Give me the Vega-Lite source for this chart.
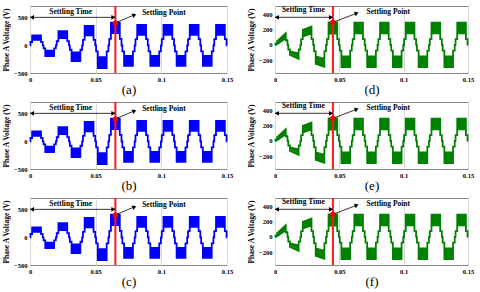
{
"$schema":"https://vega.github.io/schema/vega-lite/v6.json",
"padding":{"left":2,"top":4,"right":0,"bottom":0},
"background":"white",
"data":{"values":[{}]},
"datasets":{"w":[
{"t":0,"blo":0,"bhi":0,"glo":0,"ghi":0},
{"t":0.0003,"blo":0,"bhi":0,"glo":0,"ghi":0},
{"t":0.00035,"blo":60,"bhi":60,"glo":15,"ghi":15},
{"t":0.0016,"blo":60,"bhi":60,"glo":15,"ghi":15},
{"t":0.00165,"blo":100,"bhi":180,"glo":10,"ghi":50},
{"t":0.00835,"blo":100,"bhi":180,"glo":85,"ghi":150},
{"t":0.0084,"blo":60,"bhi":60,"glo":60,"ghi":60},
{"t":0.00965,"blo":60,"bhi":60,"glo":60,"ghi":60},
{"t":0.0097,"blo":0,"bhi":0,"glo":0,"ghi":0},
{"t":0.0103,"blo":0,"bhi":0,"glo":0,"ghi":0},
{"t":0.01035,"blo":-55,"bhi":-55,"glo":-60,"ghi":-60},
{"t":0.0116,"blo":-55,"bhi":-55,"glo":-60,"ghi":-60},
{"t":0.01165,"blo":-195,"bhi":-95,"glo":-130,"ghi":-85},
{"t":0.01835,"blo":-195,"bhi":-95,"glo":-180,"ghi":-110},
{"t":0.0184,"blo":-55,"bhi":-55,"glo":-60,"ghi":-60},
{"t":0.01965,"blo":-55,"bhi":-55,"glo":-60,"ghi":-60},
{"t":0.0197,"blo":0,"bhi":0,"glo":0,"ghi":0},
{"t":0.0203,"blo":0,"bhi":0,"glo":0,"ghi":0},
{"t":0.02035,"blo":75,"bhi":75,"glo":75,"ghi":75},
{"t":0.0216,"blo":75,"bhi":75,"glo":75,"ghi":75},
{"t":0.02165,"blo":130,"bhi":255,"glo":110,"ghi":195},
{"t":0.02835,"blo":130,"bhi":255,"glo":150,"ghi":238},
{"t":0.0284,"blo":75,"bhi":75,"glo":75,"ghi":75},
{"t":0.02965,"blo":75,"bhi":75,"glo":75,"ghi":75},
{"t":0.0297,"blo":0,"bhi":0,"glo":0,"ghi":0},
{"t":0.0303,"blo":0,"bhi":0,"glo":0,"ghi":0},
{"t":0.03035,"blo":-80,"bhi":-80,"glo":-80,"ghi":-80},
{"t":0.0316,"blo":-80,"bhi":-80,"glo":-80,"ghi":-80},
{"t":0.03165,"blo":-285,"bhi":-130,"glo":-245,"ghi":-150},
{"t":0.03835,"blo":-285,"bhi":-130,"glo":-285,"ghi":-180},
{"t":0.0384,"blo":-80,"bhi":-80,"glo":-80,"ghi":-80},
{"t":0.03965,"blo":-80,"bhi":-80,"glo":-80,"ghi":-80},
{"t":0.0397,"blo":0,"bhi":0,"glo":0,"ghi":0},
{"t":0.0403,"blo":0,"bhi":0,"glo":0,"ghi":0},
{"t":0.04035,"blo":100,"bhi":100,"glo":75,"ghi":75},
{"t":0.0416,"blo":100,"bhi":100,"glo":75,"ghi":75},
{"t":0.04165,"blo":180,"bhi":350,"glo":145,"ghi":292},
{"t":0.04835,"blo":180,"bhi":350,"glo":145,"ghi":292},
{"t":0.0484,"blo":100,"bhi":100,"glo":75,"ghi":75},
{"t":0.04965,"blo":100,"bhi":100,"glo":75,"ghi":75},
{"t":0.0497,"blo":0,"bhi":0,"glo":0,"ghi":0},
{"t":0.0503,"blo":0,"bhi":0,"glo":0,"ghi":0},
{"t":0.05035,"blo":-110,"bhi":-110,"glo":-75,"ghi":-75},
{"t":0.0516,"blo":-110,"bhi":-110,"glo":-75,"ghi":-75},
{"t":0.05165,"blo":-410,"bhi":-215,"glo":-290,"ghi":-150},
{"t":0.05835,"blo":-410,"bhi":-215,"glo":-290,"ghi":-150},
{"t":0.0584,"blo":-110,"bhi":-110,"glo":-75,"ghi":-75},
{"t":0.05965,"blo":-110,"bhi":-110,"glo":-75,"ghi":-75},
{"t":0.0597,"blo":0,"bhi":0,"glo":0,"ghi":0},
{"t":0.0603,"blo":0,"bhi":0,"glo":0,"ghi":0},
{"t":0.06035,"blo":115,"bhi":115,"glo":75,"ghi":75},
{"t":0.0616,"blo":115,"bhi":115,"glo":75,"ghi":75},
{"t":0.06165,"blo":220,"bhi":410,"glo":150,"ghi":290},
{"t":0.06835,"blo":220,"bhi":410,"glo":150,"ghi":290},
{"t":0.0684,"blo":115,"bhi":115,"glo":75,"ghi":75},
{"t":0.06965,"blo":115,"bhi":115,"glo":75,"ghi":75},
{"t":0.0697,"blo":0,"bhi":0,"glo":0,"ghi":0},
{"t":0.0703,"blo":0,"bhi":0,"glo":0,"ghi":0},
{"t":0.07035,"blo":-110,"bhi":-110,"glo":-75,"ghi":-75},
{"t":0.0716,"blo":-110,"bhi":-110,"glo":-75,"ghi":-75},
{"t":0.07165,"blo":-370,"bhi":-190,"glo":-290,"ghi":-150},
{"t":0.07835,"blo":-370,"bhi":-190,"glo":-290,"ghi":-150},
{"t":0.0784,"blo":-110,"bhi":-110,"glo":-75,"ghi":-75},
{"t":0.07965,"blo":-110,"bhi":-110,"glo":-75,"ghi":-75},
{"t":0.0797,"blo":0,"bhi":0,"glo":0,"ghi":0},
{"t":0.0803,"blo":0,"bhi":0,"glo":0,"ghi":0},
{"t":0.08035,"blo":110,"bhi":110,"glo":75,"ghi":75},
{"t":0.0816,"blo":110,"bhi":110,"glo":75,"ghi":75},
{"t":0.08165,"blo":190,"bhi":370,"glo":150,"ghi":290},
{"t":0.08835,"blo":190,"bhi":370,"glo":150,"ghi":290},
{"t":0.0884,"blo":110,"bhi":110,"glo":75,"ghi":75},
{"t":0.08965,"blo":110,"bhi":110,"glo":75,"ghi":75},
{"t":0.0897,"blo":0,"bhi":0,"glo":0,"ghi":0},
{"t":0.0903,"blo":0,"bhi":0,"glo":0,"ghi":0},
{"t":0.09035,"blo":-110,"bhi":-110,"glo":-75,"ghi":-75},
{"t":0.0916,"blo":-110,"bhi":-110,"glo":-75,"ghi":-75},
{"t":0.09165,"blo":-370,"bhi":-190,"glo":-290,"ghi":-150},
{"t":0.09835,"blo":-370,"bhi":-190,"glo":-290,"ghi":-150},
{"t":0.0984,"blo":-110,"bhi":-110,"glo":-75,"ghi":-75},
{"t":0.09965,"blo":-110,"bhi":-110,"glo":-75,"ghi":-75},
{"t":0.0997,"blo":0,"bhi":0,"glo":0,"ghi":0},
{"t":0.1003,"blo":0,"bhi":0,"glo":0,"ghi":0},
{"t":0.10035,"blo":110,"bhi":110,"glo":75,"ghi":75},
{"t":0.1016,"blo":110,"bhi":110,"glo":75,"ghi":75},
{"t":0.10165,"blo":190,"bhi":370,"glo":150,"ghi":290},
{"t":0.10835,"blo":190,"bhi":370,"glo":150,"ghi":290},
{"t":0.1084,"blo":110,"bhi":110,"glo":75,"ghi":75},
{"t":0.10965,"blo":110,"bhi":110,"glo":75,"ghi":75},
{"t":0.1097,"blo":0,"bhi":0,"glo":0,"ghi":0},
{"t":0.1103,"blo":0,"bhi":0,"glo":0,"ghi":0},
{"t":0.11035,"blo":-110,"bhi":-110,"glo":-75,"ghi":-75},
{"t":0.1116,"blo":-110,"bhi":-110,"glo":-75,"ghi":-75},
{"t":0.11165,"blo":-370,"bhi":-190,"glo":-290,"ghi":-150},
{"t":0.11835,"blo":-370,"bhi":-190,"glo":-290,"ghi":-150},
{"t":0.1184,"blo":-110,"bhi":-110,"glo":-75,"ghi":-75},
{"t":0.11965,"blo":-110,"bhi":-110,"glo":-75,"ghi":-75},
{"t":0.1197,"blo":0,"bhi":0,"glo":0,"ghi":0},
{"t":0.1203,"blo":0,"bhi":0,"glo":0,"ghi":0},
{"t":0.12035,"blo":110,"bhi":110,"glo":75,"ghi":75},
{"t":0.1216,"blo":110,"bhi":110,"glo":75,"ghi":75},
{"t":0.12165,"blo":190,"bhi":370,"glo":150,"ghi":290},
{"t":0.12835,"blo":190,"bhi":370,"glo":150,"ghi":290},
{"t":0.1284,"blo":110,"bhi":110,"glo":75,"ghi":75},
{"t":0.12965,"blo":110,"bhi":110,"glo":75,"ghi":75},
{"t":0.1297,"blo":0,"bhi":0,"glo":0,"ghi":0},
{"t":0.1303,"blo":0,"bhi":0,"glo":0,"ghi":0},
{"t":0.13035,"blo":-110,"bhi":-110,"glo":-75,"ghi":-75},
{"t":0.1316,"blo":-110,"bhi":-110,"glo":-75,"ghi":-75},
{"t":0.13165,"blo":-370,"bhi":-190,"glo":-290,"ghi":-150},
{"t":0.13835,"blo":-370,"bhi":-190,"glo":-290,"ghi":-150},
{"t":0.1384,"blo":-110,"bhi":-110,"glo":-75,"ghi":-75},
{"t":0.13965,"blo":-110,"bhi":-110,"glo":-75,"ghi":-75},
{"t":0.1397,"blo":0,"bhi":0,"glo":0,"ghi":0},
{"t":0.1403,"blo":0,"bhi":0,"glo":0,"ghi":0},
{"t":0.14035,"blo":110,"bhi":110,"glo":75,"ghi":75},
{"t":0.1416,"blo":110,"bhi":110,"glo":75,"ghi":75},
{"t":0.14165,"blo":190,"bhi":370,"glo":150,"ghi":290},
{"t":0.14835,"blo":190,"bhi":370,"glo":150,"ghi":290},
{"t":0.1484,"blo":110,"bhi":110,"glo":75,"ghi":75},
{"t":0.14965,"blo":110,"bhi":110,"glo":75,"ghi":75},
{"t":0.1497,"blo":0,"bhi":0,"glo":0,"ghi":0},
{"t":0.15,"blo":0,"bhi":0,"glo":0,"ghi":0}
]},
"columns":2,
"spacing":{"row":3,"column":13},
"concat":[
{"width":197,"height":67,"resolve":{"axis":{"y":"independent"}},"layer":[
 {"data":{"name":"w"},"mark":{"type":"area","color":"#0000ff","stroke":"#0000ff","strokeWidth":1.8},
  "encoding":{"x":{"field":"t","type":"quantitative","scale":{"domain":[0,0.15],"nice":false},"axis":{"values":[0,0.05,0.1,0.15],"format":"~g","title":"(a)"}},
   "y":{"field":"blo","type":"quantitative","scale":{"domain":[-500,710],"nice":false},"axis":{"values":[-500,0,500],"title":"Phase A Voltage (V)"}},"y2":{"field":"bhi"}}},
 {"mark":{"type":"rule","color":"#ff1a1a","strokeWidth":2},"encoding":{"x":{"datum":0.065}}},
 {"mark":{"type":"point","filled":true,"color":"#ff0000","size":30,"opacity":1},"encoding":{"x":{"datum":0.065},"y":{"datum":400,"axis":null}}},
 {"mark":{"type":"rule","color":"#000","strokeWidth":0.8},"encoding":{"x":{"datum":0},"x2":{"datum":0.065},"y":{"datum":505,"axis":null}}},
 {"mark":{"type":"point","shape":"triangle-left","filled":true,"color":"#000","size":22,"opacity":1},"encoding":{"x":{"datum":0.0015},"y":{"datum":505,"axis":null}}},
 {"mark":{"type":"point","shape":"triangle-right","filled":true,"color":"#000","size":22,"opacity":1},"encoding":{"x":{"datum":0.0635},"y":{"datum":505,"axis":null}}},
 {"mark":{"type":"rule","color":"#000","strokeWidth":0.8},"encoding":{"x":{"datum":0.066},"y":{"datum":415,"axis":null},"x2":{"datum":0.079},"y2":{"datum":545}}},
 {"mark":{"type":"point","shape":"triangle-right","filled":true,"color":"#000","size":22,"opacity":1,"angle":338},"encoding":{"x":{"datum":0.0795},"y":{"datum":548,"axis":null}}},
 {"mark":{"type":"text","font":"Liberation Serif","fontWeight":"bold","fontSize":7.5,"color":"#000"},"encoding":{"x":{"datum":0.031},"y":{"datum":610,"axis":null},"text":{"value":"Settling Time"}}},
 {"mark":{"type":"text","font":"Liberation Serif","fontWeight":"bold","fontSize":7.5,"color":"#000"},"encoding":{"x":{"datum":0.102},"y":{"datum":580,"axis":null},"text":{"value":"Settling Point"}}}
]},
{"width":193,"height":67,"resolve":{"axis":{"y":"independent"}},"layer":[
 {"data":{"name":"w"},"mark":{"type":"area","color":"#008000","stroke":"#008000","strokeWidth":1.8},
  "encoding":{"x":{"field":"t","type":"quantitative","scale":{"domain":[0,0.15],"nice":false},"axis":{"values":[0,0.05,0.1,0.15],"format":"~g","title":"(d)"}},
   "y":{"field":"glo","type":"quantitative","scale":{"domain":[-365,505],"nice":false},"axis":{"values":[-200,0,200,400],"title":"Phase A Voltage (V)"}},"y2":{"field":"ghi"}}},
 {"mark":{"type":"rule","color":"#ff1a1a","strokeWidth":2},"encoding":{"x":{"datum":0.045}}},
 {"mark":{"type":"point","filled":true,"color":"#ff0000","size":30,"opacity":1},"encoding":{"x":{"datum":0.045},"y":{"datum":290,"axis":null}}},
 {"mark":{"type":"rule","color":"#000","strokeWidth":0.8},"encoding":{"x":{"datum":0},"x2":{"datum":0.045},"y":{"datum":358,"axis":null}}},
 {"mark":{"type":"point","shape":"triangle-left","filled":true,"color":"#000","size":22,"opacity":1},"encoding":{"x":{"datum":0.0015},"y":{"datum":358,"axis":null}}},
 {"mark":{"type":"point","shape":"triangle-right","filled":true,"color":"#000","size":22,"opacity":1},"encoding":{"x":{"datum":0.0435},"y":{"datum":358,"axis":null}}},
 {"mark":{"type":"rule","color":"#000","strokeWidth":0.8},"encoding":{"x":{"datum":0.046},"y":{"datum":300,"axis":null},"x2":{"datum":0.063},"y2":{"datum":407}}},
 {"mark":{"type":"point","shape":"triangle-right","filled":true,"color":"#000","size":22,"opacity":1,"angle":340},"encoding":{"x":{"datum":0.0635},"y":{"datum":410,"axis":null}}},
 {"mark":{"type":"text","font":"Liberation Serif","fontWeight":"bold","fontSize":7.5,"color":"#000"},"encoding":{"x":{"datum":0.022},"y":{"datum":453,"axis":null},"text":{"value":"Settling Time"}}},
 {"mark":{"type":"text","font":"Liberation Serif","fontWeight":"bold","fontSize":7.5,"color":"#000"},"encoding":{"x":{"datum":0.088},"y":{"datum":432,"axis":null},"text":{"value":"Settling Point"}}}
]},
{"width":197,"height":67,"resolve":{"axis":{"y":"independent"}},"layer":[
 {"data":{"name":"w"},"mark":{"type":"area","color":"#0000ff","stroke":"#0000ff","strokeWidth":1.8},
  "encoding":{"x":{"field":"t","type":"quantitative","scale":{"domain":[0,0.15],"nice":false},"axis":{"values":[0,0.05,0.1,0.15],"format":"~g","title":"(b)"}},
   "y":{"field":"blo","type":"quantitative","scale":{"domain":[-500,710],"nice":false},"axis":{"values":[-500,0,500],"title":"Phase A Voltage (V)"}},"y2":{"field":"bhi"}}},
 {"mark":{"type":"rule","color":"#ff1a1a","strokeWidth":2},"encoding":{"x":{"datum":0.065}}},
 {"mark":{"type":"point","filled":true,"color":"#ff0000","size":30,"opacity":1},"encoding":{"x":{"datum":0.065},"y":{"datum":400,"axis":null}}},
 {"mark":{"type":"rule","color":"#000","strokeWidth":0.8},"encoding":{"x":{"datum":0},"x2":{"datum":0.065},"y":{"datum":505,"axis":null}}},
 {"mark":{"type":"point","shape":"triangle-left","filled":true,"color":"#000","size":22,"opacity":1},"encoding":{"x":{"datum":0.0015},"y":{"datum":505,"axis":null}}},
 {"mark":{"type":"point","shape":"triangle-right","filled":true,"color":"#000","size":22,"opacity":1},"encoding":{"x":{"datum":0.0635},"y":{"datum":505,"axis":null}}},
 {"mark":{"type":"rule","color":"#000","strokeWidth":0.8},"encoding":{"x":{"datum":0.066},"y":{"datum":415,"axis":null},"x2":{"datum":0.079},"y2":{"datum":545}}},
 {"mark":{"type":"point","shape":"triangle-right","filled":true,"color":"#000","size":22,"opacity":1,"angle":338},"encoding":{"x":{"datum":0.0795},"y":{"datum":548,"axis":null}}},
 {"mark":{"type":"text","font":"Liberation Serif","fontWeight":"bold","fontSize":7.5,"color":"#000"},"encoding":{"x":{"datum":0.031},"y":{"datum":610,"axis":null},"text":{"value":"Settling Time"}}},
 {"mark":{"type":"text","font":"Liberation Serif","fontWeight":"bold","fontSize":7.5,"color":"#000"},"encoding":{"x":{"datum":0.102},"y":{"datum":580,"axis":null},"text":{"value":"Settling Point"}}}
]},
{"width":193,"height":67,"resolve":{"axis":{"y":"independent"}},"layer":[
 {"data":{"name":"w"},"mark":{"type":"area","color":"#008000","stroke":"#008000","strokeWidth":1.8},
  "encoding":{"x":{"field":"t","type":"quantitative","scale":{"domain":[0,0.15],"nice":false},"axis":{"values":[0,0.05,0.1,0.15],"format":"~g","title":"(e)"}},
   "y":{"field":"glo","type":"quantitative","scale":{"domain":[-365,505],"nice":false},"axis":{"values":[-200,0,200,400],"title":"Phase A Voltage (V)"}},"y2":{"field":"ghi"}}},
 {"mark":{"type":"rule","color":"#ff1a1a","strokeWidth":2},"encoding":{"x":{"datum":0.045}}},
 {"mark":{"type":"point","filled":true,"color":"#ff0000","size":30,"opacity":1},"encoding":{"x":{"datum":0.045},"y":{"datum":290,"axis":null}}},
 {"mark":{"type":"rule","color":"#000","strokeWidth":0.8},"encoding":{"x":{"datum":0},"x2":{"datum":0.045},"y":{"datum":358,"axis":null}}},
 {"mark":{"type":"point","shape":"triangle-left","filled":true,"color":"#000","size":22,"opacity":1},"encoding":{"x":{"datum":0.0015},"y":{"datum":358,"axis":null}}},
 {"mark":{"type":"point","shape":"triangle-right","filled":true,"color":"#000","size":22,"opacity":1},"encoding":{"x":{"datum":0.0435},"y":{"datum":358,"axis":null}}},
 {"mark":{"type":"rule","color":"#000","strokeWidth":0.8},"encoding":{"x":{"datum":0.046},"y":{"datum":300,"axis":null},"x2":{"datum":0.063},"y2":{"datum":407}}},
 {"mark":{"type":"point","shape":"triangle-right","filled":true,"color":"#000","size":22,"opacity":1,"angle":340},"encoding":{"x":{"datum":0.0635},"y":{"datum":410,"axis":null}}},
 {"mark":{"type":"text","font":"Liberation Serif","fontWeight":"bold","fontSize":7.5,"color":"#000"},"encoding":{"x":{"datum":0.022},"y":{"datum":453,"axis":null},"text":{"value":"Settling Time"}}},
 {"mark":{"type":"text","font":"Liberation Serif","fontWeight":"bold","fontSize":7.5,"color":"#000"},"encoding":{"x":{"datum":0.088},"y":{"datum":432,"axis":null},"text":{"value":"Settling Point"}}}
]},
{"width":197,"height":67,"resolve":{"axis":{"y":"independent"}},"layer":[
 {"data":{"name":"w"},"mark":{"type":"area","color":"#0000ff","stroke":"#0000ff","strokeWidth":1.8},
  "encoding":{"x":{"field":"t","type":"quantitative","scale":{"domain":[0,0.15],"nice":false},"axis":{"values":[0,0.05,0.1,0.15],"format":"~g","title":"(c)"}},
   "y":{"field":"blo","type":"quantitative","scale":{"domain":[-500,710],"nice":false},"axis":{"values":[-500,0,500],"title":"Phase A Voltage (V)"}},"y2":{"field":"bhi"}}},
 {"mark":{"type":"rule","color":"#ff1a1a","strokeWidth":2},"encoding":{"x":{"datum":0.065}}},
 {"mark":{"type":"point","filled":true,"color":"#ff0000","size":30,"opacity":1},"encoding":{"x":{"datum":0.065},"y":{"datum":400,"axis":null}}},
 {"mark":{"type":"rule","color":"#000","strokeWidth":0.8},"encoding":{"x":{"datum":0},"x2":{"datum":0.065},"y":{"datum":505,"axis":null}}},
 {"mark":{"type":"point","shape":"triangle-left","filled":true,"color":"#000","size":22,"opacity":1},"encoding":{"x":{"datum":0.0015},"y":{"datum":505,"axis":null}}},
 {"mark":{"type":"point","shape":"triangle-right","filled":true,"color":"#000","size":22,"opacity":1},"encoding":{"x":{"datum":0.0635},"y":{"datum":505,"axis":null}}},
 {"mark":{"type":"rule","color":"#000","strokeWidth":0.8},"encoding":{"x":{"datum":0.066},"y":{"datum":415,"axis":null},"x2":{"datum":0.079},"y2":{"datum":545}}},
 {"mark":{"type":"point","shape":"triangle-right","filled":true,"color":"#000","size":22,"opacity":1,"angle":338},"encoding":{"x":{"datum":0.0795},"y":{"datum":548,"axis":null}}},
 {"mark":{"type":"text","font":"Liberation Serif","fontWeight":"bold","fontSize":7.5,"color":"#000"},"encoding":{"x":{"datum":0.031},"y":{"datum":610,"axis":null},"text":{"value":"Settling Time"}}},
 {"mark":{"type":"text","font":"Liberation Serif","fontWeight":"bold","fontSize":7.5,"color":"#000"},"encoding":{"x":{"datum":0.102},"y":{"datum":580,"axis":null},"text":{"value":"Settling Point"}}}
]},
{"width":193,"height":67,"resolve":{"axis":{"y":"independent"}},"layer":[
 {"data":{"name":"w"},"mark":{"type":"area","color":"#008000","stroke":"#008000","strokeWidth":1.8},
  "encoding":{"x":{"field":"t","type":"quantitative","scale":{"domain":[0,0.15],"nice":false},"axis":{"values":[0,0.05,0.1,0.15],"format":"~g","title":"(f)"}},
   "y":{"field":"glo","type":"quantitative","scale":{"domain":[-365,505],"nice":false},"axis":{"values":[-200,0,200,400],"title":"Phase A Voltage (V)"}},"y2":{"field":"ghi"}}},
 {"mark":{"type":"rule","color":"#ff1a1a","strokeWidth":2},"encoding":{"x":{"datum":0.045}}},
 {"mark":{"type":"point","filled":true,"color":"#ff0000","size":30,"opacity":1},"encoding":{"x":{"datum":0.045},"y":{"datum":290,"axis":null}}},
 {"mark":{"type":"rule","color":"#000","strokeWidth":0.8},"encoding":{"x":{"datum":0},"x2":{"datum":0.045},"y":{"datum":358,"axis":null}}},
 {"mark":{"type":"point","shape":"triangle-left","filled":true,"color":"#000","size":22,"opacity":1},"encoding":{"x":{"datum":0.0015},"y":{"datum":358,"axis":null}}},
 {"mark":{"type":"point","shape":"triangle-right","filled":true,"color":"#000","size":22,"opacity":1},"encoding":{"x":{"datum":0.0435},"y":{"datum":358,"axis":null}}},
 {"mark":{"type":"rule","color":"#000","strokeWidth":0.8},"encoding":{"x":{"datum":0.046},"y":{"datum":300,"axis":null},"x2":{"datum":0.063},"y2":{"datum":407}}},
 {"mark":{"type":"point","shape":"triangle-right","filled":true,"color":"#000","size":22,"opacity":1,"angle":340},"encoding":{"x":{"datum":0.0635},"y":{"datum":410,"axis":null}}},
 {"mark":{"type":"text","font":"Liberation Serif","fontWeight":"bold","fontSize":7.5,"color":"#000"},"encoding":{"x":{"datum":0.022},"y":{"datum":453,"axis":null},"text":{"value":"Settling Time"}}},
 {"mark":{"type":"text","font":"Liberation Serif","fontWeight":"bold","fontSize":7.5,"color":"#000"},"encoding":{"x":{"datum":0.088},"y":{"datum":432,"axis":null},"text":{"value":"Settling Point"}}}
]}
],
"config":{
 "view":{"stroke":"#888","strokeWidth":1},
 "axis":{"labelFont":"Liberation Serif","labelFontWeight":"bold","labelFontSize":6.5,"labelColor":"#000","titleFont":"Liberation Serif","titleFontWeight":"bold","titleFontSize":7.5,"titleColor":"#000","domain":false,"ticks":false,"grid":false,"labelOverlap":false,"labelPadding":3,"titlePadding":3},
 "axisX":{"grid":true,"gridColor":"#d8d8d8","titleFontWeight":"normal","titleFontSize":13,"titlePadding":1,"labelFlush":false}
}
}
